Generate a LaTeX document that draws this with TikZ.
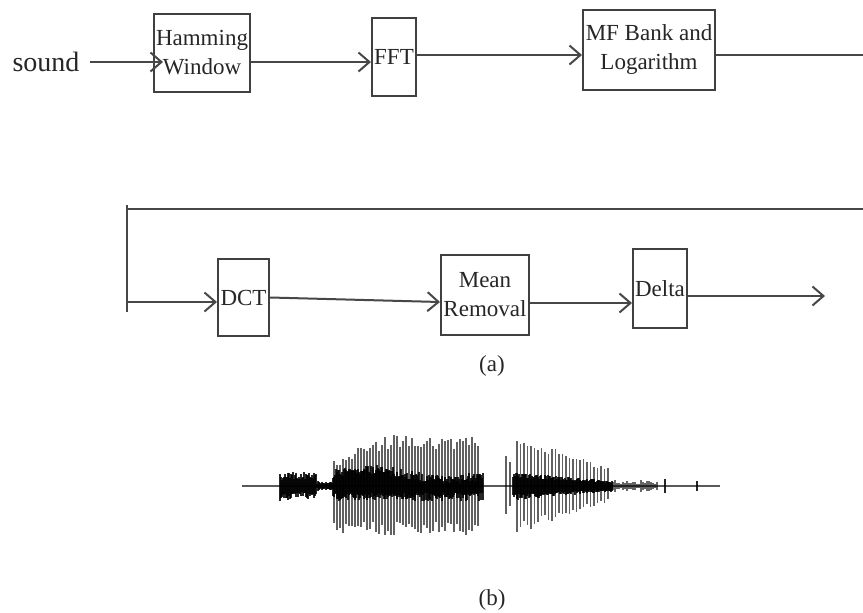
\documentclass[tikz,border=0pt]{standalone}
\usepackage{fontspec}
\setmainfont{Liberation Serif}
\usetikzlibrary{arrows.meta,calc}
\begin{document}
\begin{tikzpicture}[x=1pt,y=-1pt,
  blk/.style={draw=black!75, line width=2pt, inner sep=0pt, align=center,
              text=black!85, font=\fontsize{23}{29}\selectfont},
  wire/.style={draw=black!72, line width=2pt},
  arr/.style={wire, -{Straight Barb[length=11pt,width=19pt,line width=2pt]}},
  lbl/.style={inner sep=0pt, text=black!85, font=\fontsize{23}{27}\selectfont},
  strk/.style={line width=1.5pt, draw=black, opacity=0.62},
  core/.style={line width=1.2pt, draw=black, opacity=0.85}]
\useasboundingbox (0,0) rectangle (863,613);

% ---- processing chain, first row ----
\node[lbl, font=\fontsize{28}{30}\selectfont] (sound) at (46,62) {sound};
\node[blk, minimum width=96pt, minimum height=78pt] (ham) at (202,53) {Hamming\\Window};
\node[blk, minimum width=44pt, minimum height=78pt] (fft) at (394,57) {FFT};
\node[blk, minimum width=132pt, minimum height=80pt] (mf) at (649,50) {MF Bank and\\Logarithm};

\draw[arr] ([xshift=10pt]sound.east) -- ([xshift=10pt]sound.east -| ham.west);
\draw[arr] (ham.east |- sound.east) -- (fft.west |- sound.east);
\draw[arr] ([yshift=2pt]fft.east) -- ([yshift=2pt]fft.east -| mf.west);

% ---- wrap-around to the second row ----
\coordinate (re) at (863,55);
\coordinate (rr) at (863,209);
\coordinate (bt) at (127,205);
\coordinate (bb) at (127,312);
\draw[wire] ([yshift=-5pt]mf.east) -- (re);
\draw[wire] (rr) -- (rr -| bt);
\draw[wire] (bt) -- (bb);

% ---- processing chain, second row ----
\node[blk, minimum width=51pt, minimum height=77pt] (dct) at (243.5,297.5) {DCT};
\node[blk, minimum width=88pt, minimum height=80pt] (mean) at (485,295) {Mean\\Removal};
\node[blk, minimum width=54pt, minimum height=79pt] (delta) at (660,288.5) {Delta};
\coordinate (out) at (825,296);

\draw[arr] ([yshift=-4.5pt]dct.west -| bt) -- ([yshift=-4.5pt]dct.west);
\draw[arr] (dct.east) -- ([yshift=-7pt]mean.west);
\draw[arr] ([yshift=-8pt]mean.east) -- ([yshift=-8pt]mean.east -| delta.west);
\draw[arr] (delta.east |- out) -- (out);

\node[lbl] (capa) at (492,366) {(a)};

% ---- speech waveform ----
\pgfmathsetseed{11}
\draw[line width=2pt, draw=black!65] (242,486) -- (720,486);
% first short burst
\foreach \x in {280,281,...,316} {
  \pgfmathsetmacro\u{6+9*rnd}
  \pgfmathsetmacro\d{6+9*rnd}
  \draw[core] (\x,486-\u) -- (\x,486+\d);
}
\foreach \x in {317,318,...,332} {
  \pgfmathsetmacro\u{2+3*rnd}
  \draw[core] (\x,486-\u) -- (\x,486+\u);
}
% long voiced segment: striations
\foreach \x in {334,337,...,478} {
  \pgfmathsetmacro\e{min(51,26+25*(\x-334)/50)}
  \pgfmathsetmacro\u{\e*(0.72+0.28*rnd)}
  \pgfmathsetmacro\d{48*(0.75+0.28*rnd)}
  \draw[strk] (\x,486-\u) -- (\x,486+\d);
}
% long voiced segment: dense core
\foreach \x in {333,334,...,483} {
  \pgfmathsetmacro\u{7+9*rnd+5*sin((\x-333)*2.4)}
  \pgfmathsetmacro\d{7+8*rnd}
  \draw[core] (\x,486-\u) -- (\x,486+\d);
}
% plosive spike
\draw[strk, line width=2pt] (506,456) -- (506,514);
\draw[strk, line width=1.5pt] (510,462) -- (510,506);
% decaying voiced segment
\foreach \x in {517,520.5,...,611} {
  \pgfmathsetmacro\e{50-32*(\x-517)/94}
  \pgfmathsetmacro\u{\e*(0.8+0.2*rnd)}
  \pgfmathsetmacro\d{(\e-4)*(0.8+0.25*rnd)}
  \draw[strk] (\x,486-\u) -- (\x,486+\d);
}
\foreach \x in {513,514,...,612} {
  \pgfmathsetmacro\e{13-8*(\x-513)/99}
  \pgfmathsetmacro\u{\e*(0.6+0.5*rnd)}
  \pgfmathsetmacro\d{\e*(0.6+0.5*rnd)}
  \draw[core] (\x,486-\u) -- (\x,486+\d);
}
% tail
\foreach \x in {613,615,...,657} {
  \pgfmathsetmacro\u{2+4*rnd}
  \draw[core, opacity=0.6] (\x,486-\u) -- (\x,486+\u);
}
\draw[core, line width=1.6pt] (665,479) -- (665,493);
\draw[core, line width=1.6pt] (697,481) -- (697,491);

\node[lbl] (capb) at (492,600) {(b)};
\end{tikzpicture}
\end{document}
